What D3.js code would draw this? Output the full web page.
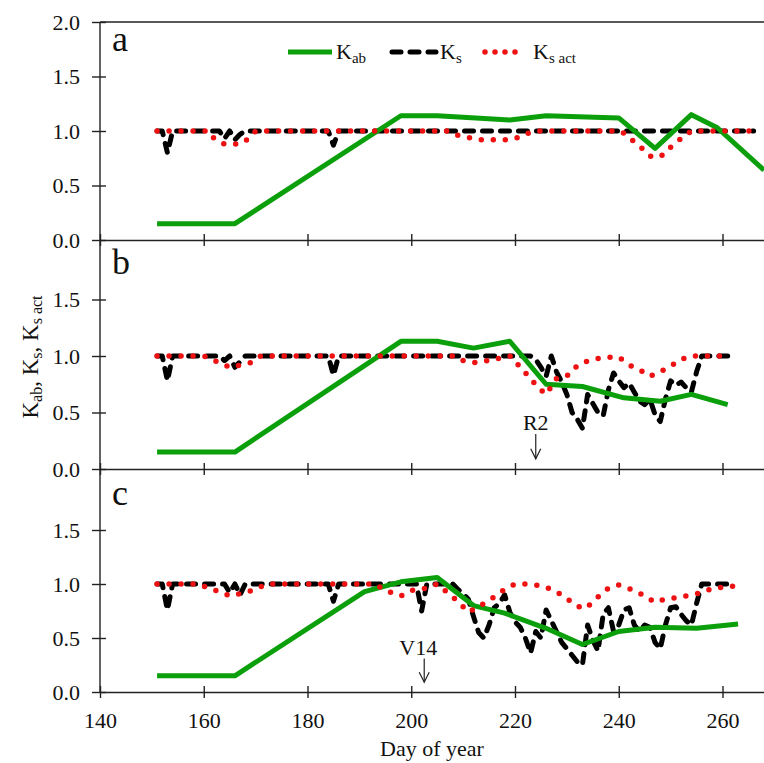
<!DOCTYPE html>
<html>
<head>
<meta charset="utf-8">
<script src="https://cdn.jsdelivr.net/npm/d3@7/dist/d3.min.js"></script>
<style>
	body { margin: 0; background: #fff; }
	svg, svg text { display: block; font-family: "Times New Roman", "Liberation Serif", "DejaVu Serif", serif; }
</style>
</head>
<body>
<svg id="chart" width="764" height="763"></svg>
<script>
const xTicks	= [140, 160, 180, 200, 220, 240, 260];
const yTicks	= [0, 0.5, 1, 1.5, 2];
const panelNames	= ['a', 'b', 'c'];

// [day of year, value]
const kabA		= [[151,0.15],[166,0.15],[198,1.14],[205,1.14],[219,1.10],[226,1.14],[240,1.12],[247,0.84],[254,1.15],[259,1.03],[268,0.64]];
const ksA		= [[151,1],[152,1],[153,0.8],[154,1],[163,1],[164,0.93],[165,1],[166,0.92],[167,0.97],[168,1],[184,1],[185,0.87],[186,1],[266,1]];
const ksActA	= [[151,1],[161,1],[162,0.93],[164,0.88],[167,0.88],[169,0.94],[170,1],[207,1],[209,0.96],[211,0.94],[213,0.92],[218,0.92],[220,0.93],[222,0.97],[224,1],[240,1],[241,0.98],[243,0.9],[245,0.82],[246,0.77],[247,0.755],[249,0.79],[250,0.85],[252,0.93],[254,1],[266,1]];

const kabB		= [[151,0.15],[166,0.15],[198,1.13],[205,1.13],[212,1.07],[219,1.13],[226,0.75],[233,0.73],[241,0.63],[248,0.60],[254,0.66],[261,0.57]];
const ksB		= [[151,1],[152,1],[153,0.78],[154,1],[163,1],[164,0.96],[165,1],[166,0.9],[167,0.95],[168,1],[184,1],[185,0.83],[186,1],[223,1],[224,0.97],[225,0.9],[226,0.82],[227,1],[228,0.86],[229,0.77],[230,0.66],[231,0.5],[232,0.44],[233,0.36],[234,0.66],[235,0.58],[236,0.5],[237,0.47],[238,0.7],[239,0.85],[240,0.78],[241,0.72],[242,0.76],[243,0.68],[244,0.6],[245,0.57],[246,0.62],[247,0.48],[248,0.42],[249,0.62],[250,0.78],[251,0.74],[252,0.77],[253,0.72],[254,0.68],[255,0.86],[256,1],[261,1]];
const ksActB	= [[151,1],[160,1],[163,0.94],[165,0.9],[167,0.92],[169,0.94],[171,1],[208,1],[209,0.97],[212,0.94],[215,0.96],[217,0.98],[219,1],[220,0.97],[221,0.89],[223,0.81],[224,0.74],[226,0.66],[228,0.8],[230,0.82],[231,0.88],[233,0.94],[235,0.97],[238,0.99],[240,0.99],[242,0.92],[244,0.88],[246,0.82],[248,0.86],[250,0.91],[252,0.97],[254,1],[261,1]];

const kabC		= [[151,0.15],[166,0.15],[191,0.93],[198,1.02],[205,1.06],[212,0.80],[218,0.73],[226,0.59],[233,0.44],[240,0.56],[247,0.60],[255,0.59],[263,0.63]];
const ksC		= [[151,1],[152,1],[153,0.76],[154,1],[164,1],[165,0.92],[166,1],[167,0.9],[168,1],[184,1],[185,0.84],[186,1],[201,1],[202,0.75],[203,1],[208,1],[209,0.95],[210,0.91],[211,0.86],[212,0.7],[213,0.55],[214,0.5],[215,0.62],[216,0.78],[217,0.82],[218,0.9],[219,0.74],[220,0.65],[221,0.6],[222,0.5],[223,0.36],[224,0.56],[225,0.5],[226,0.76],[227,0.66],[228,0.56],[229,0.46],[230,0.4],[231,0.34],[232,0.28],[233,0.25],[234,0.62],[235,0.48],[236,0.38],[237,0.72],[238,0.78],[239,0.56],[240,0.62],[241,0.76],[242,0.78],[243,0.62],[244,0.56],[245,0.62],[246,0.6],[247,0.46],[248,0.4],[249,0.62],[250,0.78],[251,0.79],[252,0.72],[253,0.66],[254,0.62],[255,0.82],[256,1],[262,1]];
const ksActC	= [[151,1],[159,1],[161,0.96],[163,0.93],[165,0.89],[167,0.91],[170,0.95],[172,1],[193,1],[195,0.94],[198,0.89],[200,0.94],[202,0.95],[205,1],[207,0.92],[209,0.84],[211,0.74],[213,0.79],[216,0.88],[218,0.95],[220,1],[222,1],[224,0.99],[226,0.97],[229,0.9],[231,0.83],[233,0.77],[234,0.79],[236,0.88],[238,0.96],[240,0.99],[243,0.94],[245,0.89],[247,0.83],[249,0.86],[252,0.88],[254,0.9],[256,0.92],[258,0.96],[262,0.98]];

const stageLabels	= ['', 'R2', 'V14'];
const stageDays		= [null, 224, 202.5];

const SERIF	= '"Times New Roman", "Liberation Serif", "DejaVu Serif", serif';
const GREEN	= '#0b9f0b';
const RED	= '#ee1111';
const AXIS	= '#222';

let svg		= d3.select('#chart').attr('font-family', SERIF);
let x		= d3.scaleLinear().domain([140, 268]).range([100, 764]);

let panels	= [
	{ kab: kabA, ks: ksA, ksAct: ksActA, range: [240, 22] },
	{ kab: kabB, ks: ksB, ksAct: ksActB, range: [469, 243] },
	{ kab: kabC, ks: ksC, ksAct: ksActC, range: [692, 476] }
];

// frame: continuous left axis and top border
svg.append('line').attr('x1', 100).attr('x2', 100).attr('y1', 22).attr('y2', 692).attr('stroke', AXIS).attr('stroke-width', 1.4);
svg.append('line').attr('x1', 100).attr('x2', 764).attr('y1', 22).attr('y2', 22).attr('stroke', AXIS).attr('stroke-width', 1.4);

panels.forEach((p, i) => {
	let y		= d3.scaleLinear().domain([0, 2]).range(p.range);
	let g		= svg.append('g').attr('class', 'panel');

	let yAxis	= g.append('g').attr('transform', 'translate(100,0)')
		.call(d3.axisLeft(y).tickValues(i == 0 ? yTicks : yTicks.slice(0, 4)).tickFormat(d3.format('.1f')).tickSize(8).tickPadding(12));
	yAxis.attr('font-family', SERIF).attr('font-size', 22);
	yAxis.select('.domain').remove();
	yAxis.selectAll('.tick line').attr('x1', 6).attr('stroke', AXIS).attr('stroke-width', 1.4);
	yAxis.selectAll('.tick text').attr('fill', '#111');

	let xAxis	= g.append('g').attr('transform', 'translate(0,' + p.range[0] + ')')
		.call(d3.axisBottom(x).tickValues(xTicks).tickFormat(i == 2 ? d3.format('d') : '').tickSizeInner(6).tickSizeOuter(0).tickPadding(14));
	xAxis.attr('font-family', SERIF).attr('font-size', 22);
	xAxis.select('.domain').attr('stroke', AXIS).attr('stroke-width', 1.4);
	xAxis.selectAll('.tick line').attr('y1', -6).attr('stroke', AXIS).attr('stroke-width', 1.4);
	xAxis.selectAll('.tick text').attr('fill', '#111');

	let line	= d3.line().x((d) => x(d[0])).y((d) => y(d[1]));

	g.append('path').datum(p.ks).attr('d', line).attr('fill', 'none').attr('stroke', '#000').attr('stroke-width', 5).attr('stroke-linecap', 'round').attr('stroke-linejoin', 'round').attr('stroke-dasharray', '9,9');
	g.append('path').datum(p.kab).attr('d', line).attr('fill', 'none').attr('stroke', GREEN).attr('stroke-width', 5).attr('stroke-linejoin', 'round');
	g.append('path').datum(p.ksAct).attr('d', line).attr('fill', 'none').attr('stroke', RED).attr('stroke-width', 5.5).attr('stroke-linecap', 'round').attr('stroke-dasharray', '0,12');

	g.append('text').attr('x', 112).attr('y', y(1.73)).attr('font-size', 36).attr('fill', '#111').text(panelNames[i]);

	if (stageDays[i] !== null) {
		let ax	= x(stageDays[i]);
		let top	= y(0.31), bot = y(0.09);
		g.append('line').attr('x1', ax).attr('x2', ax).attr('y1', top).attr('y2', bot).attr('stroke', '#222').attr('stroke-width', 1.2);
		g.append('path').attr('d', 'M' + (ax - 5) + ',' + (bot - 10) + 'L' + ax + ',' + bot + 'L' + (ax + 5) + ',' + (bot - 10)).attr('fill', 'none').attr('stroke', '#222').attr('stroke-width', 1.2);
		g.append('text').attr('x', ax - (i == 2 ? 6 : 0)).attr('y', top - 4).attr('text-anchor', 'middle').attr('font-size', 22).attr('fill', '#111').text(stageLabels[i]);
	}
});

// legend
let legend	= svg.append('g').attr('class', 'legend');
let legendItems	= [
	{ sub: 'ab', x1: 288, x2: 332, tx: 336, color: GREEN, dash: null, cap: 'butt', w: 5 },
	{ sub: 's', x1: 392, x2: 436, tx: 440, color: '#000', dash: '9,9', cap: 'round', w: 5 },
	{ sub: 's act', x1: 485, x2: 525, tx: 533, color: RED, dash: '0,10', cap: 'round', w: 5.5 }
];
legendItems.forEach((d) => {
	legend.append('line').attr('x1', d.x1).attr('x2', d.x2).attr('y1', 52).attr('y2', 52).attr('stroke', d.color).attr('stroke-width', d.w).attr('stroke-linecap', d.cap).attr('stroke-dasharray', d.dash);
	let t	= legend.append('text').attr('x', d.tx).attr('y', 59).attr('font-size', 22).attr('fill', '#111');
	t.append('tspan').text('K');
	t.append('tspan').attr('dy', 4).attr('font-size', 15).text(d.sub);
});

// y axis title
let yt	= svg.append('text').attr('transform', 'translate(38,357) rotate(-90)').attr('text-anchor', 'middle').attr('font-size', 23).attr('fill', '#111');
yt.append('tspan').text('K');
yt.append('tspan').attr('dy', 4).attr('font-size', 16).text('ab');
yt.append('tspan').attr('dy', -4).text(', K');
yt.append('tspan').attr('dy', 4).attr('font-size', 16).text('s');
yt.append('tspan').attr('dy', -4).text(', K');
yt.append('tspan').attr('dy', 4).attr('font-size', 16).text('s act');

svg.append('text').attr('x', 432).attr('y', 756).attr('text-anchor', 'middle').attr('font-size', 22).attr('fill', '#111').text('Day of year');
</script>
</body>
</html>
